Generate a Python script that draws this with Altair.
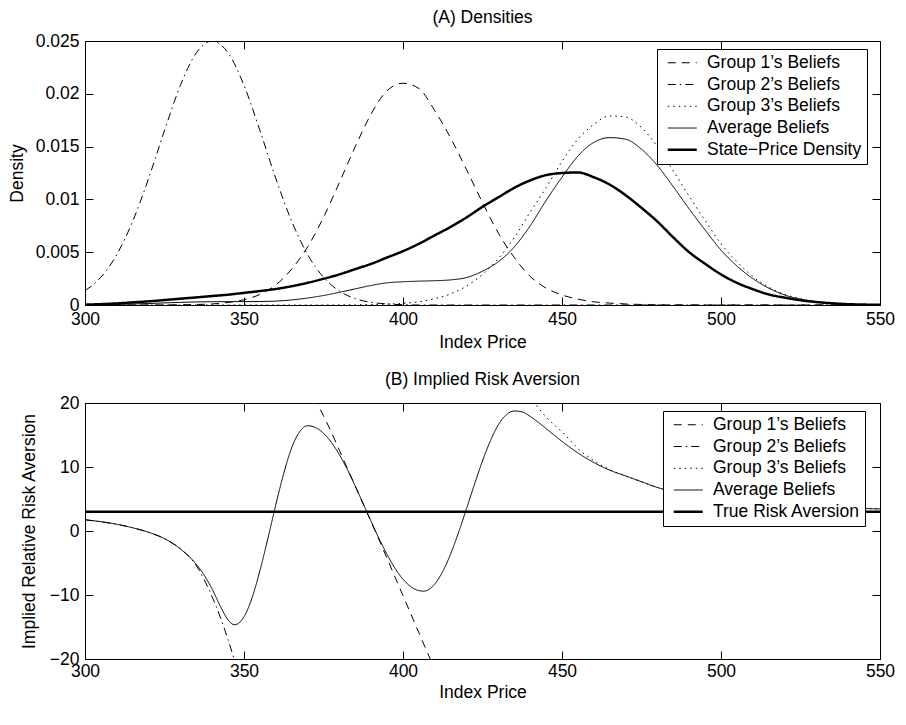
import altair as alt
import pandas as pd

# ---------------- Panel A: densities ----------------
PRICE_A = [300, 305, 310, 315, 320, 325, 330, 335, 340, 345, 350, 355, 360, 365, 370,
           375, 380, 385, 390, 395, 400, 405, 410, 415, 420, 425, 430, 435, 440, 445,
           450, 455, 460, 465, 470, 475, 480, 485, 490, 495, 500, 505, 510, 515, 520,
           525, 530, 535, 540, 545, 550]
G1_DENSITY = [0.0, 0.0, 0.0, 0.0, 0.0, 0.00001, 0.00002, 0.00005, 0.0001, 0.00024,
              0.0005, 0.001, 0.0019, 0.0034, 0.0055, 0.0083, 0.0116, 0.0150,
              0.0181, 0.0203, 0.0210, 0.0205, 0.0184, 0.0158, 0.0128, 0.0097,
              0.0068, 0.0045, 0.0027, 0.0016, 0.00095, 0.00055, 0.0003, 0.00018,
              0.0001, 0.00005, 0.00002, 0.0, 0.0, 0.0, 0.0, 0.0, 0.0, 0.0, 0.0, 0.0, 0.0,
              0.0, 0.0, 0.0, 0.0]
G2_DENSITY = [0.00135, 0.00263, 0.00478, 0.00793, 0.01199, 0.01653, 0.0208, 0.02387,
              0.0250, 0.02387, 0.0208, 0.01653, 0.01199, 0.00793, 0.00478, 0.00263,
              0.00132, 0.0006, 0.00025, 0.0001, 0.00003, 0.0, 0.0, 0.0, 0.0, 0.0, 0.0,
              0.0, 0.0, 0.0, 0.0, 0.0, 0.0, 0.0, 0.0, 0.0, 0.0, 0.0, 0.0, 0.0, 0.0, 0.0,
              0.0, 0.0, 0.0, 0.0, 0.0, 0.0, 0.0, 0.0, 0.0]
G3_DENSITY = [0.0, 0.0, 0.0, 0.0, 0.0, 0.0, 0.0, 0.0, 0.0, 0.0, 0.0, 0.0, 0.0, 0.0, 0.0,
              0.0, 0.00001, 0.00002, 0.00004, 0.00008, 0.00016, 0.0003, 0.0006,
              0.00105, 0.0018, 0.0029, 0.0044, 0.0064, 0.0088, 0.0111, 0.0136,
              0.0157, 0.0171, 0.0179, 0.0178, 0.0168, 0.0150, 0.0127, 0.0103,
              0.0080, 0.0058, 0.0041, 0.0027, 0.0017, 0.0010, 0.0006, 0.00032,
              0.00016, 0.00008, 0.00004, 0.00002]
AVG_DENSITY = [0.00002, 0.00003, 0.00006, 0.0001, 0.00014, 0.0002, 0.00025, 0.00029,
               0.00031, 0.00032, 0.00032, 0.00033, 0.00037, 0.00048, 0.00066, 0.0009,
               0.0012, 0.00153, 0.00185, 0.0021, 0.0022, 0.00226, 0.0023, 0.00238,
               0.0026, 0.0032, 0.0041, 0.0055, 0.0075, 0.0099, 0.0121, 0.0141,
               0.0154, 0.01585, 0.0157, 0.01475, 0.0132, 0.0112, 0.0091, 0.0071,
               0.0052, 0.0037, 0.0025, 0.0016, 0.00095, 0.00055, 0.0003, 0.00015,
               0.00007, 0.00003, 0.00001]
SPD_DENSITY = [0.00003, 0.00008, 0.00015, 0.00025, 0.00035, 0.00047, 0.0006, 0.00072,
               0.00085, 0.00098, 0.00115, 0.00132, 0.00152, 0.00178, 0.0021, 0.00248,
               0.0029, 0.0034, 0.0039, 0.0045, 0.0051, 0.0058, 0.0066, 0.0074, 0.0083,
               0.0093, 0.0102, 0.0111, 0.0118, 0.0123, 0.0125, 0.01255, 0.0121, 0.0114,
               0.0104, 0.0092, 0.0079, 0.0064, 0.0050, 0.0039, 0.0029, 0.0021, 0.0015,
               0.0010, 0.0007, 0.00045, 0.00028, 0.00016, 0.00008, 0.00004, 0.00002]

# ---------------- Panel B: implied risk aversion ----------------
AVG_RA_X = [300, 305, 310, 315, 320, 325, 330, 335, 337.5, 340, 342.5, 345, 347, 350,
            352.5, 355, 357.5, 360, 362.5, 365, 367.5, 370, 372.5, 375, 377.5, 380, 382.5,
            385, 387.5, 390, 392.5, 395, 397.5, 400, 402.5, 405, 406.5, 410, 412.5, 415,
            417.5, 420, 422.5, 425, 427.5, 430, 432.5, 435, 437.5, 440, 442.5, 445, 447.5,
            450, 455, 460, 465, 470, 475, 480, 485, 490, 495, 500, 510, 520, 530, 540, 550]
AVG_RA = [1.75, 1.45, 1.05, 0.5, -0.2, -1.2, -2.8, -5.2, -6.9, -9.1, -11.7, -13.9, -14.65,
          -13.4, -10.5, -6.2, -1.2, 4.1, 9.0, 13.0, 15.5, 16.45, 16.16, 15.27, 13.84, 11.91,
          9.61, 7.0, 4.26, 1.47, -1.22, -3.68, -5.83, -7.54, -8.71, -9.32, -9.4, -8.27,
          -6.32, -3.57, -0.18, 3.53, 7.33, 10.95, 14.11, 16.6, 18.16, 18.75, 18.6, 17.9,
          17.0, 16.0, 15.0, 14.0, 12.2, 10.7, 9.5, 8.6, 7.7, 6.8, 6.1, 5.6, 5.2, 4.85, 4.4,
          4.05, 3.8, 3.6, 3.45]
G1_RA_X = [372, 375, 377.5, 380, 382.5, 385, 387.5, 390, 392.5, 395, 397.5, 400, 402.5,
           405, 407.5, 410.5]
G1_RA = [20.9, 18.0, 15.4, 12.6, 9.8, 7.0, 4.2, 1.4, -1.4, -4.3, -7.2, -10.1, -13.0,
         -15.9, -18.8, -22.0]
G2_RA_X = [300, 305, 310, 315, 320, 325, 330, 335, 337.5, 340, 342.5, 345, 347.5]
G2_RA = [1.75, 1.45, 1.05, 0.5, -0.2, -1.2, -2.8, -5.4, -7.6, -10.3, -13.4, -17.0, -21.0]
G3_RA_X = [441, 442.5, 445, 447.5, 450, 452.5, 455, 460, 465, 470, 475, 480, 485, 490,
           495, 500, 510, 520, 530, 540, 550]
G3_RA = [20.3, 19.3, 17.8, 16.6, 15.5, 14.2, 12.9, 11.0, 9.6, 8.6, 7.7, 6.8, 6.1, 5.6,
         5.2, 4.85, 4.4, 4.05, 3.8, 3.6, 3.45]
TRUE_RA_X = [300, 550]
TRUE_RA = [3, 3]

SERIES_A = ["Group 1\u2019s Beliefs", "Group 2\u2019s Beliefs", "Group 3\u2019s Beliefs",
            "Average Beliefs", "State\u2212Price Density"]
SERIES_B = ["Group 1\u2019s Beliefs", "Group 2\u2019s Beliefs", "Group 3\u2019s Beliefs",
            "Average Beliefs", "True Risk Aversion"]
X_TICKS = [300, 350, 400, 450, 500, 550]
Y_TICKS_A = [0, 0.005, 0.01, 0.015, 0.02, 0.025]
Y_TICKS_B = [-20, -10, 0, 10, 20]
DASHES = [[8, 6], [8, 4, 1.5, 4], [1.5, 4], [1, 0], [1, 0]]

FONT = "Liberation Sans"
FS = 17.5
W = 795


def long_df(pairs, names):
    rows = []
    for (xs, ys), name in zip(pairs, names):
        for x, y in zip(xs, ys):
            rows.append({"price": x, "value": y, "series": name})
    return pd.DataFrame(rows)


df_a = long_df([(PRICE_A, G1_DENSITY), (PRICE_A, G2_DENSITY), (PRICE_A, G3_DENSITY),
                (PRICE_A, AVG_DENSITY), (PRICE_A, SPD_DENSITY)], SERIES_A)
df_b = long_df([(G1_RA_X, G1_RA), (G2_RA_X, G2_RA), (G3_RA_X, G3_RA),
                (AVG_RA_X, AVG_RA), (TRUE_RA_X, TRUE_RA)], SERIES_B)


def panel(df, names, y_dom, y_ticks, y_fmt, y_title, y_title_pad, title, H, leg_x, leg_y,
          x_label_pad, x_title_pad):
    thick_name = names[-1]
    xs = alt.Scale(domain=[300, 550], nice=False, zero=False)
    ys = alt.Scale(domain=y_dom, nice=False, zero=False)
    legend = alt.Legend(
        title=None, orient="none", legendX=leg_x, legendY=leg_y,
        symbolType="M-1.933,0H1.933", symbolSize=225, symbolStrokeColor="black",
        symbolStrokeWidth=alt.ExprRef(expr="datum.value == '" + thick_name + "' ? 2.5 : 1"),
        symbolOffset=11.5, labelOffset=16, labelLimit=400,
        labelFont=FONT, labelFontSize=FS, labelColor="black",
        fillColor="white", strokeColor="black", padding=5, rowPadding=2.75,
    )
    dash = alt.StrokeDash("series:N", scale=alt.Scale(domain=names, range=DASHES), legend=legend)
    main_x = alt.X("price:Q", scale=xs, axis=alt.Axis(
        orient="bottom", values=X_TICKS, format="d", title="Index Price", ticks=False,
        tickSize=0, domain=False, grid=False, labelPadding=x_label_pad,
        titlePadding=x_title_pad, labelFlush=False))
    main_y = alt.Y("value:Q", scale=ys, axis=alt.Axis(
        orient="left", values=y_ticks, format=y_fmt, title=y_title, ticks=False,
        tickSize=0, domain=False, grid=False, labelPadding=6, titlePadding=y_title_pad,
        labelFlush=False))
    thin = alt.Chart(df).transform_filter(alt.datum.series != thick_name).mark_line(
        color="black", strokeWidth=1, clip=True, interpolate="monotone").encode(
        x=main_x, y=main_y, strokeDash=dash)
    thick = alt.Chart(df).transform_filter(alt.datum.series == thick_name).mark_line(
        color="black", strokeWidth=2.5, clip=True, interpolate="monotone").encode(
        x=alt.X("price:Q", scale=xs, axis=None), y=alt.Y("value:Q", scale=ys, axis=None),
        strokeDash=dash)
    tick_a = alt.Chart(df).mark_line(strokeOpacity=0, clip=True).encode(
        x=alt.X("price:Q", scale=xs, axis=alt.Axis(
            orient="top", offset=-H, values=X_TICKS, labels=False, tickSize=8,
            domain=False, grid=False, title=None)),
        y=alt.Y("value:Q", scale=ys, axis=alt.Axis(
            orient="right", offset=-W, values=y_ticks, labels=False, tickSize=8,
            domain=False, grid=False, title=None)),
        detail="series:N")
    tick_b = alt.Chart(df).mark_line(strokeOpacity=0, clip=True).encode(
        x=alt.X("price:Q", scale=xs, axis=alt.Axis(
            orient="bottom", offset=-H, values=X_TICKS, labels=False, tickSize=8,
            domain=False, grid=False, title=None)),
        y=alt.Y("value:Q", scale=ys, axis=alt.Axis(
            orient="left", offset=-W, values=y_ticks, labels=False, tickSize=8,
            domain=False, grid=False, title=None)),
        detail="series:N")
    return alt.layer(thick, thin, tick_a, tick_b).resolve_axis(
        x="independent", y="independent").properties(
        width=W, height=H,
        title=alt.TitleParams(text=title, font=FONT, fontSize=FS, fontWeight="normal",
                              color="black", offset=5.5, frame="group", anchor="middle"))


top = panel(df_a, SERIES_A, [0, 0.025], Y_TICKS_A, "~g", "Density", 8.5,
            "(A) Densities", 264, 572, 8, 5, 6)
bottom = panel(df_b, SERIES_B, [-20, 20], Y_TICKS_B, "d",
               "Implied Relative Risk Aversion", 10.5,
               "(B) Implied Risk Aversion", 256, 578, 8, 3, 4)

chart = alt.vconcat(top, bottom, spacing=98, bounds="flush").resolve_scale(
    strokeDash="independent").properties(
    padding={"left": 0, "top": 0, "right": 0, "bottom": 0}
).configure(font=FONT).configure_view(stroke="black", strokeWidth=1).configure_axis(
    labelFont=FONT, labelFontSize=FS, labelColor="black", titleFont=FONT,
    titleFontSize=FS, titleFontWeight="normal", titleColor="black",
    tickColor="black", tickWidth=1).configure_legend(labelFont=FONT, labelFontSize=FS)

chart.save("out.html", embed_options={"renderer": "svg", "actions": False})
